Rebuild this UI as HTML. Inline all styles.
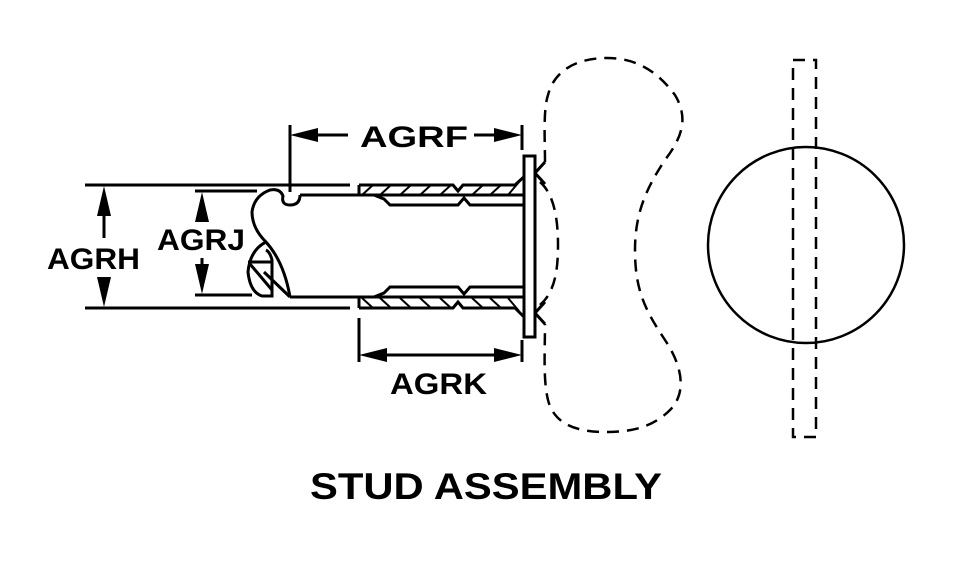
<!DOCTYPE html>
<html><head><style>
html,body{margin:0;padding:0;background:#fff;}
svg{display:block;}
text{font-family:"Liberation Sans",sans-serif;font-weight:bold;fill:#000;}
</style></head><body>
<svg width="958" height="565" viewBox="0 0 958 565" xmlns="http://www.w3.org/2000/svg">
<g stroke="#000" stroke-width="3" fill="none">
<line x1="85" y1="185" x2="350" y2="185"/>
<line x1="85" y1="308" x2="350" y2="308"/>
<line x1="195" y1="191" x2="257" y2="191"/>
<line x1="195" y1="295" x2="252" y2="295"/>
<line x1="300" y1="195" x2="524" y2="195"/>
<line x1="290" y1="297" x2="524" y2="297"/>
<path d="M300,195 Q300,205 290,205 Q281,205 283,196 Q280,188 270,190 Q254,196 252,212 Q252,228 266,242 Q284,262 290,297"/>
<path d="M266,242 Q250,250 248,272 Q250,292 262,296 L272,296 L272,260 Q270,252 266,250"/>
<line x1="248" y1="262" x2="272" y2="262"/>
<line x1="250" y1="264" x2="272" y2="290"/>
<line x1="264" y1="272" x2="290" y2="297"/>
<path d="M359,185 L453,185 L458,191 L463,185 L515,185 L527,174"/>
<line x1="359" y1="185" x2="359" y2="195"/>
<path d="M374,195 L384,199 L390,205 L458,205 L464,198 L470,205 L524,205"/>
<path d="M359,308 L453,308 L458,302 L463,308 L515,308 L527,320"/>
<line x1="359" y1="297" x2="359" y2="308"/>
<path d="M374,297 L384,293 L390,287 L458,287 L464,294 L470,287 L524,287"/>
<g stroke-width="2">
<line x1="362" y1="195" x2="373" y2="185"/><line x1="380" y1="195" x2="391" y2="185"/><line x1="400" y1="195" x2="411" y2="185"/><line x1="420" y1="195" x2="431" y2="185"/><line x1="440" y1="195" x2="451" y2="185"/>
<line x1="472" y1="195" x2="483" y2="185"/><line x1="490" y1="195" x2="501" y2="185"/><line x1="508" y1="195" x2="519" y2="182"/>
<line x1="362" y1="298" x2="373" y2="308"/><line x1="380" y1="298" x2="391" y2="308"/><line x1="400" y1="298" x2="411" y2="308"/><line x1="420" y1="298" x2="431" y2="308"/><line x1="440" y1="298" x2="451" y2="308"/>
<line x1="472" y1="298" x2="483" y2="308"/><line x1="490" y1="298" x2="501" y2="308"/><line x1="508" y1="298" x2="519" y2="311"/>
</g>
<rect x="524" y="156" width="11" height="181" fill="#fff"/>
<line x1="535" y1="173" x2="545" y2="162"/><line x1="535" y1="173" x2="545" y2="184"/>
<line x1="535" y1="313" x2="545" y2="302"/><line x1="535" y1="313" x2="545" y2="324"/>
<g stroke-dasharray="12,8" stroke-width="2.5">
<path d="M545,162 C545,140 543,110 548,95 C555,68 580,58 607,58 C640,58 660,75 675,95 C690,120 680,140 665,160 C645,190 635,215 635,250 C635,290 645,310 665,340 C685,370 685,395 670,410 C650,430 625,432 605,432 C570,432 553,420 548,400 C543,380 545,350 545,324"/>
<path d="M540,182 C555,195 558,222 558,245 C558,270 555,292 540,305"/>
<rect x="793" y="60" width="23" height="377"/>
</g>
<circle cx="806" cy="245" r="98" stroke-width="2.5"/>
<line x1="290" y1="125" x2="290" y2="192"/>
<line x1="522" y1="125" x2="522" y2="150"/>
<line x1="300" y1="135" x2="348" y2="135"/>
<line x1="474" y1="135" x2="512" y2="135"/>
<line x1="359" y1="318" x2="359" y2="362"/>
<line x1="522" y1="340" x2="522" y2="362"/>
<line x1="370" y1="355" x2="512" y2="355"/>
<line x1="104" y1="195" x2="104" y2="238"/>
<line x1="104" y1="280" x2="104" y2="298"/>
<line x1="202" y1="201" x2="202" y2="222"/>
<line x1="202" y1="258" x2="202" y2="285"/>
</g>
<g fill="#000">
<polygon points="290,135 318,128 318,142"/>
<polygon points="522,135 494,128 494,142"/>
<polygon points="359,355 387,348 387,362"/>
<polygon points="522,355 494,348 494,362"/>
<polygon points="104,186 97,216 111,216"/>
<polygon points="104,307 97,277 111,277"/>
<polygon points="202,192 195,222 209,222"/>
<polygon points="202,294 195,264 209,264"/>
</g>
<text x="360" y="147" font-size="30" textLength="108" lengthAdjust="spacingAndGlyphs">AGRF</text>
<text x="390" y="394" font-size="30" textLength="97" lengthAdjust="spacingAndGlyphs">AGRK</text>
<text x="47" y="269" font-size="30" textLength="93" lengthAdjust="spacingAndGlyphs">AGRH</text>
<text x="157" y="250" font-size="30" textLength="88" lengthAdjust="spacingAndGlyphs">AGRJ</text>
<text x="310" y="499" font-size="37" textLength="352" lengthAdjust="spacingAndGlyphs">STUD ASSEMBLY</text>
</svg>
</body></html>
